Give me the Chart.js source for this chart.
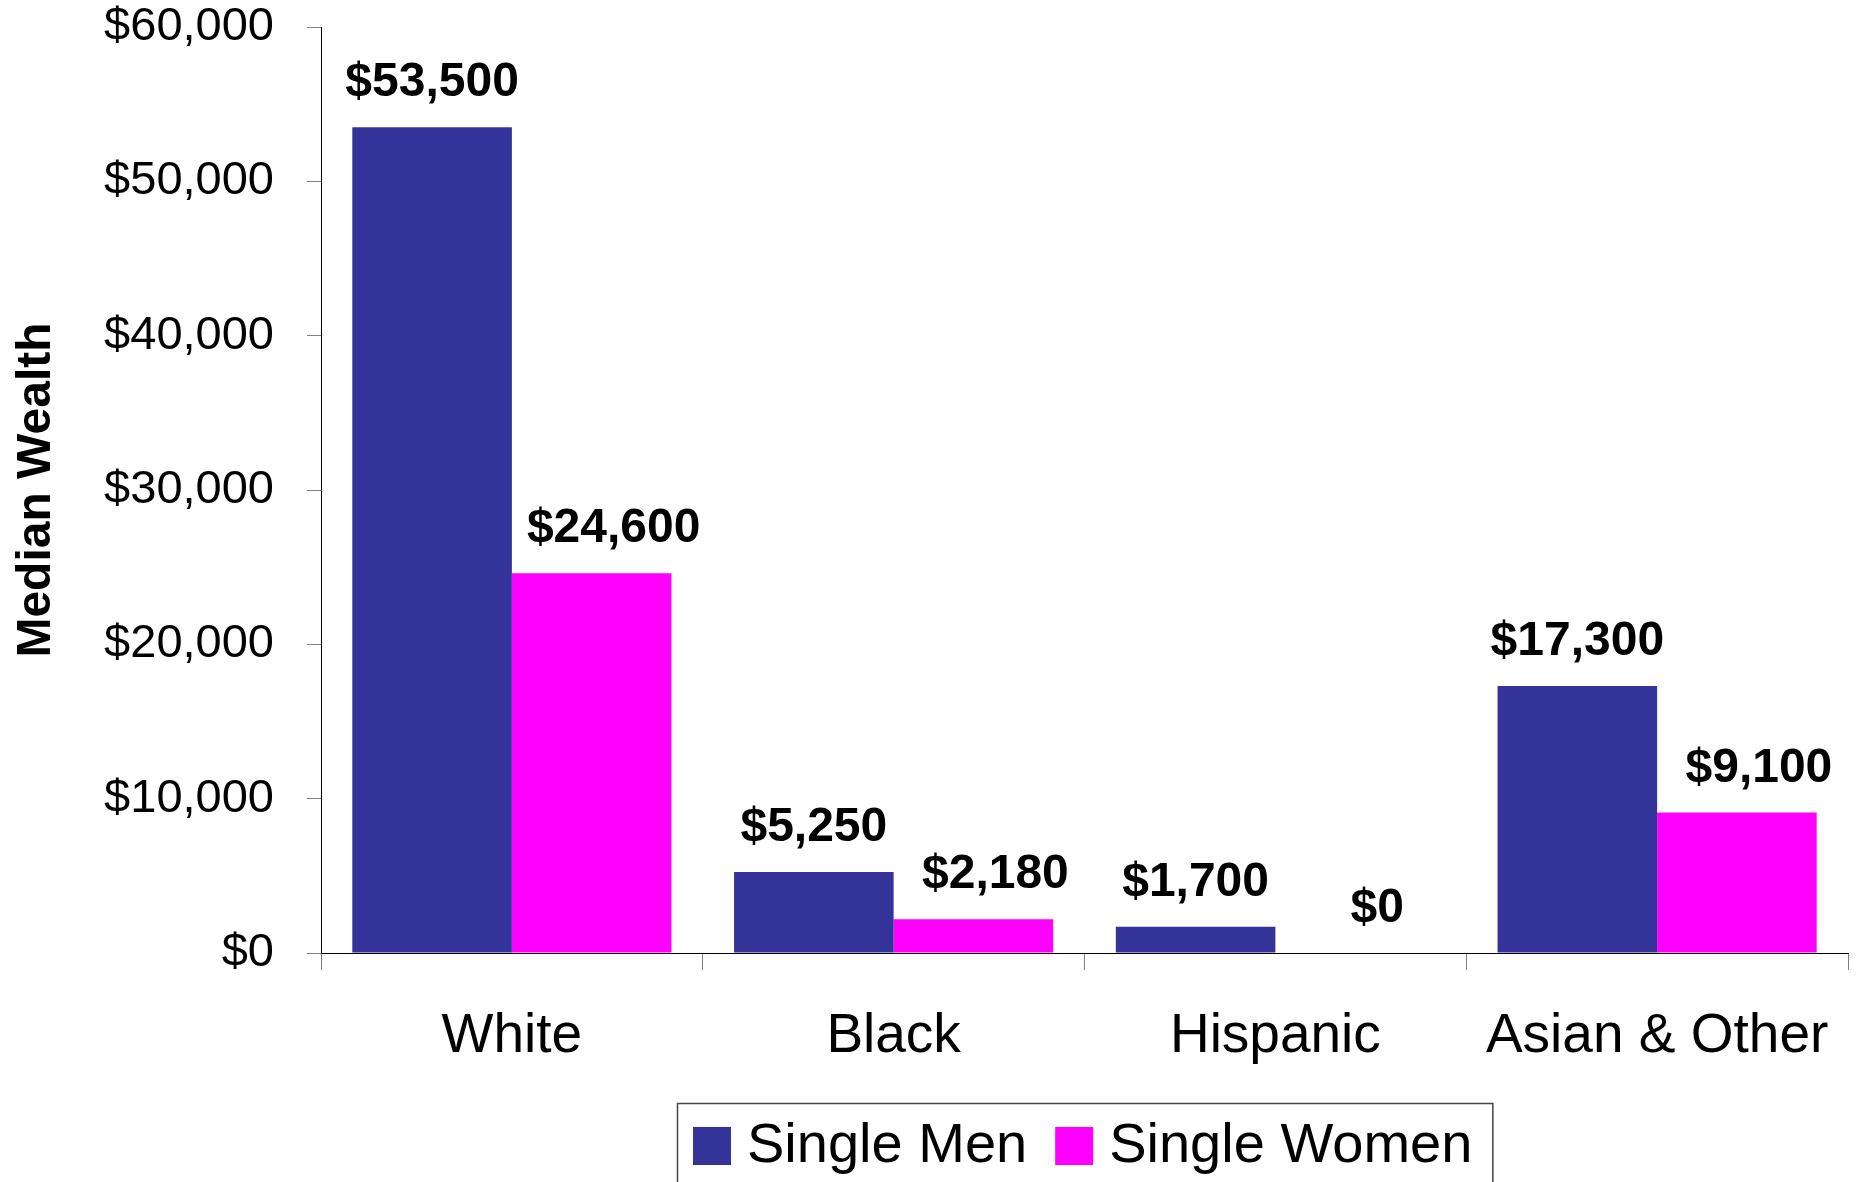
<!DOCTYPE html>
<html>
<head>
<meta charset="utf-8">
<script src="https://cdn.jsdelivr.net/npm/chart.js@4/dist/chart.umd.min.js"></script>
<style>
  html, body { margin: 0; padding: 0; background: #fff; }
  #wrap { width: 1856px; height: 1182px; }
</style>
</head>
<body>
<div id="wrap"><canvas id="wealth-chart" width="1856" height="1182"></canvas></div>
<script>
const groups = ["White", "Black", "Hispanic", "Asian & Other"];
const singleMen = [53500, 5250, 1700, 17300];
const singleWomen = [24600, 2180, 0, 9100];
const seriesNames = ["Single Men", "Single Women"];
const seriesColors = ["#333399", "#FF00FF"];
const yTicks = [0, 10000, 20000, 30000, 40000, 50000, 60000];

const FONT = "'Liberation Sans', Arial, Helvetica, sans-serif";
const money = v => "$" + Number(v).toLocaleString("en-US");

// value labels above bars
const barLabels = {
  id: "barLabels",
  afterDatasetsDraw(chart) {
    const ctx = chart.ctx;
    ctx.save();
    ctx.font = "bold 48px " + FONT;
    ctx.fillStyle = "#000";
    ctx.textAlign = "center";
    ctx.textBaseline = "alphabetic";
    chart.data.datasets.forEach((ds, i) => {
      const shift = ds.labelShift || 0;
      chart.getDatasetMeta(i).data.forEach((bar, j) => {
        ctx.fillText(money(ds.data[j]), bar.x + shift, bar.y - 31);
      });
    });
    ctx.restore();
  }
};

// boxed legend under the plot, centred on the plot area
const boxLegend = {
  id: "boxLegend",
  afterDraw(chart) {
    const ctx = chart.ctx;
    const area = chart.chartArea;
    ctx.save();
    ctx.font = "56px " + FONT;
    const sq = 38, padL = 16, padR = 20, gap = 16, itemGap = 28;
    const widths = chart.data.datasets.map(ds => ctx.measureText(ds.label).width);
    let total = padL + padR;
    widths.forEach((w, i) => { total += sq + gap + w + (i ? itemGap : 0); });
    const left = Math.round((area.left + area.right) / 2 - total / 2);
    const top = 1103;
    ctx.strokeStyle = "#444";
    ctx.lineWidth = 1.5;
    ctx.strokeRect(left + 0.5, top + 0.5, total, 200);
    let x = left + padL;
    ctx.textBaseline = "alphabetic";
    ctx.textAlign = "left";
    chart.data.datasets.forEach((ds, i) => {
      if (i) x += itemGap;
      ctx.fillStyle = ds.backgroundColor;
      ctx.fillRect(x, 1127, sq, sq);
      x += sq + gap;
      ctx.fillStyle = "#000";
      ctx.fillText(ds.label, x, 1162);
      x += widths[i];
    });
    ctx.restore();
  }
};

new Chart(document.getElementById("wealth-chart"), {
  type: "bar",
  data: {
    labels: groups,
    datasets: [
      { label: seriesNames[0], data: singleMen, backgroundColor: seriesColors[0] },
      { label: seriesNames[1], data: singleWomen, backgroundColor: seriesColors[1], labelShift: 22 }
    ]
  },
  options: {
    responsive: false,
    animation: false,
    devicePixelRatio: 1,
    layout: { padding: { left: 8, right: 8, top: 27, bottom: 79 } },
    datasets: { bar: { categoryPercentage: 0.836, barPercentage: 1.0 } },
    plugins: {
      legend: { display: false },
      tooltip: { enabled: false }
    },
    scales: {
      x: {
        offset: true,
        grid: { offset: true, drawOnChartArea: false, drawTicks: true, tickLength: 17, tickColor: "#808080" },
        border: { color: "#000", width: 1 },
        ticks: { color: "#000", font: { family: FONT, size: 55 }, padding: 34, maxRotation: 0 },
        afterFit(s) { s.height = 150; s.paddingLeft = 0; s.paddingRight = 0; }
      },
      y: {
        min: 0,
        max: 60000,
        afterBuildTicks(s) { s.ticks = yTicks.map(v => ({ value: v })); },
        grid: { drawOnChartArea: false, drawTicks: true, tickLength: 14, tickColor: "#808080" },
        border: { color: "#000", width: 1 },
        ticks: { color: "#000", font: { family: FONT, size: 47, lineHeight: 1.1 }, padding: 33, callback: v => money(v) },
        title: { display: true, text: "Median Wealth", color: "#000", font: { family: FONT, size: 48, weight: "bold" }, padding: 0 },
        afterFit(s) { s.width = 313; s.paddingTop = 0; s.paddingBottom = 0; }
      }
    }
  },
  plugins: [barLabels, boxLegend]
});
</script>
</body>
</html>
